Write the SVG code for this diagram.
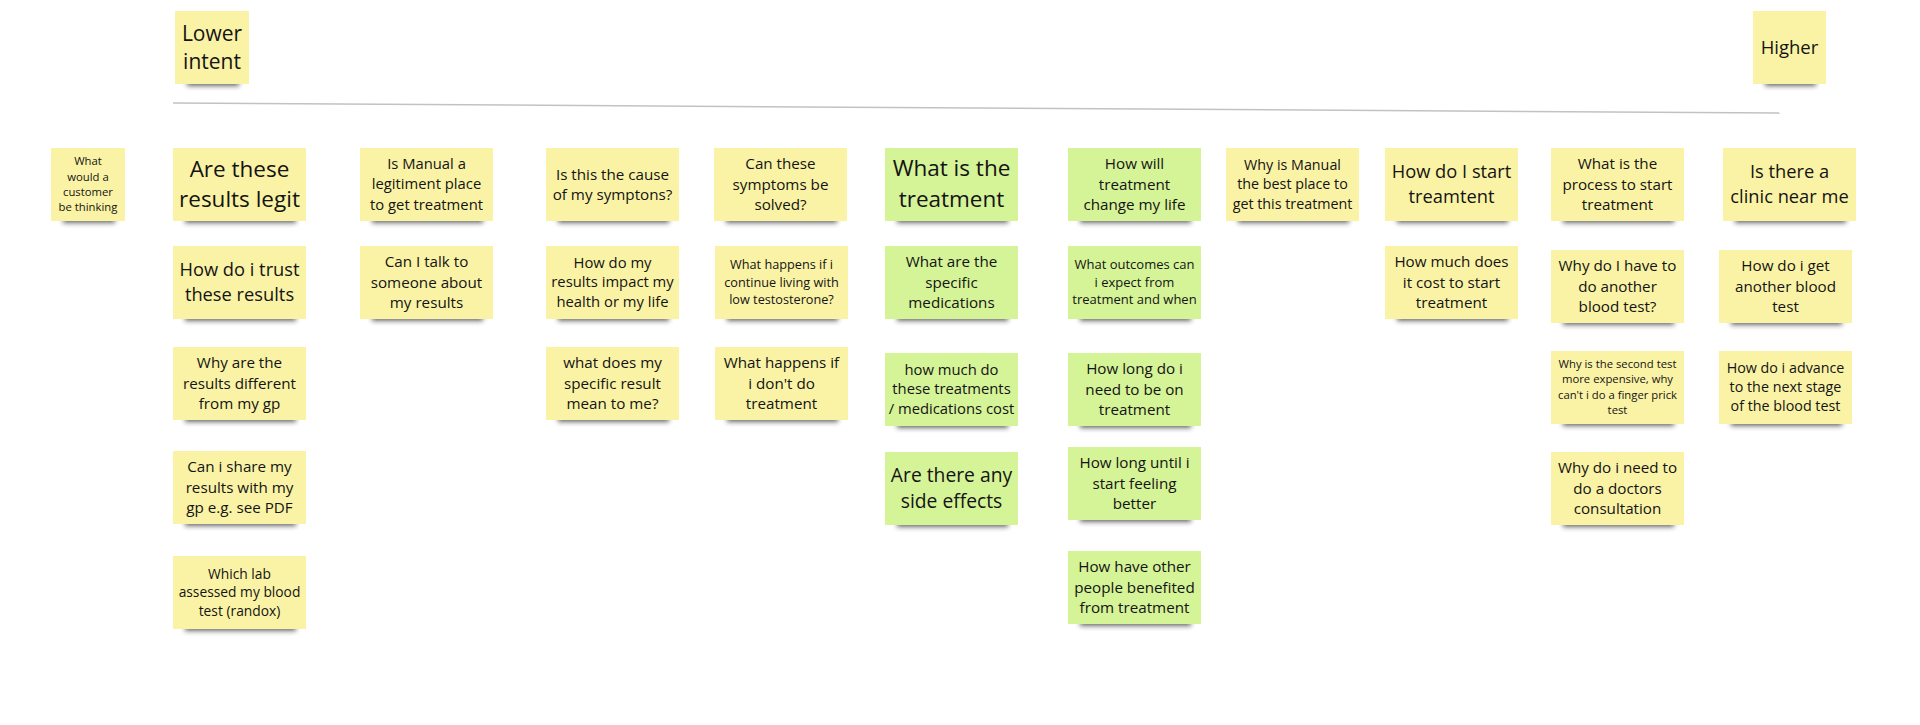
<svg xmlns="http://www.w3.org/2000/svg" width="1920" height="725" viewBox="0 0 1920 725">
<defs>
<filter id="blur" x="-20%" y="-200%" width="140%" height="500%"><feGaussianBlur stdDeviation="2.4"/></filter>
<style>
.sh{fill:#2a2a2a;opacity:.7;filter:url(#blur)}
.y{fill:#faf3a5}
.g{fill:#d5f397}
text{font-family:"Open Sans","Noto Sans","Liberation Sans",sans-serif;fill:#141414;text-anchor:middle}
.divider{stroke:#c2c2c2;stroke-width:1.5;fill:none}
</style>
</defs>
<rect width="1920" height="725" fill="#ffffff"/>
<g id="connectors">
<line class="divider" x1="173" y1="103" x2="1780" y2="113"/>
</g>
<g id="n-lower"><rect class="sh" x="187" y="79" width="52" height="7"/><rect class="y" x="175" y="11" width="74" height="73"/><text font-size="21" y="40.5"><tspan x="212">Lower</tspan><tspan x="212" dy="28">intent</tspan></text></g>
<g id="n-higher"><rect class="sh" x="1765" y="79" width="51" height="7"/><rect class="y" x="1753" y="11" width="73" height="73"/><text font-size="18.5" x="1789.5" y="53.6">Higher</text></g>
<g id="n-think"><rect class="sh" x="63" y="216" width="52" height="7"/><rect class="y" x="51" y="148" width="74" height="73"/><text font-size="11.3" y="165.2"><tspan x="88">What</tspan><tspan x="88" dy="15.3">would a</tspan><tspan x="88" dy="15.3">customer</tspan><tspan x="88" dy="15.3">be thinking</tspan></text></g>

<g id="n-c1a"><rect class="sh" x="185" y="216" width="111" height="7"/><rect class="y" x="173" y="148" width="133" height="73"/><text font-size="22.5" y="176.8"><tspan x="239.5">Are these</tspan><tspan x="239.5" dy="30">results legit</tspan></text></g>
<g id="n-c1b"><rect class="sh" x="185" y="314" width="111" height="7"/><rect class="y" x="173" y="246" width="133" height="73"/><text font-size="18.3" y="275.9"><tspan x="239.5">How do i trust</tspan><tspan x="239.5" dy="25">these results</tspan></text></g>
<g id="n-c1c"><rect class="sh" x="185" y="415" width="111" height="7"/><rect class="y" x="173" y="347" width="133" height="73"/><text font-size="15.2" y="368.2"><tspan x="239.5">Why are the</tspan><tspan x="239.5" dy="20.3">results different</tspan><tspan x="239.5" dy="20.3">from my gp</tspan></text></g>
<g id="n-c1d"><rect class="sh" x="185" y="519" width="111" height="7"/><rect class="y" x="173" y="451" width="133" height="73"/><text font-size="15.2" y="472.2"><tspan x="239.5">Can i share my</tspan><tspan x="239.5" dy="20.3">results with my</tspan><tspan x="239.5" dy="20.3">gp e.g. see PDF</tspan></text></g>
<g id="n-c1e"><rect class="sh" x="185" y="624" width="111" height="7"/><rect class="y" x="173" y="556" width="133" height="73"/><text font-size="13.8" y="578.5"><tspan x="239.5">Which lab</tspan><tspan x="239.5" dy="18.5">assessed my blood</tspan><tspan x="239.5" dy="18.5">test (randox)</tspan></text></g>

<g id="n-c2a"><rect class="sh" x="372" y="216" width="111" height="7"/><rect class="y" x="360" y="148" width="133" height="73"/><text font-size="14.8" y="169"><tspan x="426.5">Is Manual a</tspan><tspan x="426.5" dy="20.3">legitiment place</tspan><tspan x="426.5" dy="20.3">to get treatment</tspan></text></g>
<g id="n-c2b"><rect class="sh" x="372" y="314" width="111" height="7"/><rect class="y" x="360" y="246" width="133" height="73"/><text font-size="15.2" y="267.2"><tspan x="426.5">Can I talk to</tspan><tspan x="426.5" dy="20.3">someone about</tspan><tspan x="426.5" dy="20.3">my results</tspan></text></g>

<g id="n-c3a"><rect class="sh" x="558" y="216" width="111" height="7"/><rect class="y" x="546" y="148" width="133" height="73"/><text font-size="15.2" y="179.5"><tspan x="612.5">Is this the cause</tspan><tspan x="612.5" dy="20">of my symptons?</tspan></text></g>
<g id="n-c3b"><rect class="sh" x="558" y="314" width="111" height="7"/><rect class="y" x="546" y="246" width="133" height="73"/><text font-size="14.8" y="268"><tspan x="612.5">How do my</tspan><tspan x="612.5" dy="19.3">results impact my</tspan><tspan x="612.5" dy="19.3">health or my life</tspan></text></g>
<g id="n-c3c"><rect class="sh" x="558" y="415" width="111" height="7"/><rect class="y" x="546" y="347" width="133" height="73"/><text font-size="15.2" y="368.2"><tspan x="612.5">what does my</tspan><tspan x="612.5" dy="20.3">specific result</tspan><tspan x="612.5" dy="20.3">mean to me?</tspan></text></g>

<g id="n-c4a"><rect class="sh" x="726" y="216" width="111" height="7"/><rect class="y" x="714" y="148" width="133" height="73"/><text font-size="15.2" y="168.8"><tspan x="780.5">Can these</tspan><tspan x="780.5" dy="20.7">symptoms be</tspan><tspan x="780.5" dy="20.7">solved?</tspan></text></g>
<g id="n-c4b"><rect class="sh" x="727" y="314" width="111" height="7"/><rect class="y" x="715" y="246" width="133" height="73"/><text font-size="12.7" y="269.2"><tspan x="781.5">What happens if i</tspan><tspan x="781.5" dy="17.3">continue living with</tspan><tspan x="781.5" dy="17.3">low testosterone?</tspan></text></g>
<g id="n-c4c"><rect class="sh" x="727" y="415" width="111" height="7"/><rect class="y" x="715" y="347" width="133" height="73"/><text font-size="15.2" y="368.2"><tspan x="781.5">What happens if</tspan><tspan x="781.5" dy="20.3">i don't do</tspan><tspan x="781.5" dy="20.3">treatment</tspan></text></g>

<g id="n-c5a"><rect class="sh" x="897" y="216" width="111" height="7"/><rect class="g" x="885" y="148" width="133" height="73"/><text font-size="22.5" y="176.3"><tspan x="951.5">What is the</tspan><tspan x="951.5" dy="31">treatment</tspan></text></g>
<g id="n-c5b"><rect class="sh" x="897" y="314" width="111" height="7"/><rect class="g" x="885" y="246" width="133" height="73"/><text font-size="15.2" y="266.8"><tspan x="951.5">What are the</tspan><tspan x="951.5" dy="20.7">specific</tspan><tspan x="951.5" dy="20.7">medications</tspan></text></g>
<g id="n-c5c"><rect class="sh" x="897" y="421" width="111" height="7"/><rect class="g" x="885" y="353" width="133" height="73"/><text font-size="14.8" y="375"><tspan x="951.5">how much do</tspan><tspan x="951.5" dy="19.3">these treatments</tspan><tspan x="951.5" dy="19.3">/ medications cost</tspan></text></g>
<g id="n-c5d"><rect class="sh" x="897" y="520" width="111" height="7"/><rect class="g" x="885" y="452" width="133" height="73"/><text font-size="19.3" y="481.8"><tspan x="951.5">Are there any</tspan><tspan x="951.5" dy="26">side effects</tspan></text></g>

<g id="n-c6a"><rect class="sh" x="1080" y="216" width="111" height="7"/><rect class="g" x="1068" y="148" width="133" height="73"/><text font-size="15.2" y="168.8"><tspan x="1134.5">How will</tspan><tspan x="1134.5" dy="20.7">treatment</tspan><tspan x="1134.5" dy="20.7">change my life</tspan></text></g>
<g id="n-c6b"><rect class="sh" x="1080" y="314" width="111" height="7"/><rect class="g" x="1068" y="246" width="133" height="73"/><text font-size="13" y="269.1"><tspan x="1134.5">What outcomes can</tspan><tspan x="1134.5" dy="17.5">i expect from</tspan><tspan x="1134.5" dy="17.5">treatment and when</tspan></text></g>
<g id="n-c6c"><rect class="sh" x="1080" y="421" width="111" height="7"/><rect class="g" x="1068" y="353" width="133" height="73"/><text font-size="15.2" y="374.2"><tspan x="1134.5">How long do i</tspan><tspan x="1134.5" dy="20.3">need to be on</tspan><tspan x="1134.5" dy="20.3">treatment</tspan></text></g>
<g id="n-c6d"><rect class="sh" x="1080" y="515" width="111" height="7"/><rect class="g" x="1068" y="447" width="133" height="73"/><text font-size="15.2" y="468.2"><tspan x="1134.5">How long until i</tspan><tspan x="1134.5" dy="20.3">start feeling</tspan><tspan x="1134.5" dy="20.3">better</tspan></text></g>
<g id="n-c6e"><rect class="sh" x="1080" y="619" width="111" height="7"/><rect class="g" x="1068" y="551" width="133" height="73"/><text font-size="15.2" y="572.2"><tspan x="1134.5">How have other</tspan><tspan x="1134.5" dy="20.3">people benefited</tspan><tspan x="1134.5" dy="20.3">from treatment</tspan></text></g>

<g id="n-c7a"><rect class="sh" x="1238" y="216" width="111" height="7"/><rect class="y" x="1226" y="148" width="133" height="73"/><text font-size="14.3" y="169.6"><tspan x="1292.5">Why is Manual</tspan><tspan x="1292.5" dy="19.5">the best place to</tspan><tspan x="1292.5" dy="19.5">get this treatment</tspan></text></g>

<g id="n-c8a"><rect class="sh" x="1397" y="216" width="111" height="7"/><rect class="y" x="1385" y="148" width="133" height="73"/><text font-size="18.3" y="177.9"><tspan x="1451.5">How do I start</tspan><tspan x="1451.5" dy="25">treamtent</tspan></text></g>
<g id="n-c8b"><rect class="sh" x="1397" y="314" width="111" height="7"/><rect class="y" x="1385" y="246" width="133" height="73"/><text font-size="15.2" y="266.8"><tspan x="1451.5">How much does</tspan><tspan x="1451.5" dy="20.7">it cost to start</tspan><tspan x="1451.5" dy="20.7">treatment</tspan></text></g>

<g id="n-c9a"><rect class="sh" x="1563" y="216" width="111" height="7"/><rect class="y" x="1551" y="148" width="133" height="73"/><text font-size="15.2" y="169.2"><tspan x="1617.5">What is the</tspan><tspan x="1617.5" dy="20.3">process to start</tspan><tspan x="1617.5" dy="20.3">treatment</tspan></text></g>
<g id="n-c9b"><rect class="sh" x="1563" y="318" width="111" height="7"/><rect class="y" x="1551" y="250" width="133" height="73"/><text font-size="15.2" y="271.2"><tspan x="1617.5">Why do I have to</tspan><tspan x="1617.5" dy="20.3">do another</tspan><tspan x="1617.5" dy="20.3">blood test?</tspan></text></g>
<g id="n-c9c"><rect class="sh" x="1563" y="419" width="111" height="7"/><rect class="y" x="1551" y="351" width="133" height="73"/><text font-size="11.3" y="367.9"><tspan x="1617.5">Why is the second test</tspan><tspan x="1617.5" dy="15.5">more expensive, why</tspan><tspan x="1617.5" dy="15.5">can't i do a finger prick</tspan><tspan x="1617.5" dy="15.5">test</tspan></text></g>
<g id="n-c9d"><rect class="sh" x="1563" y="520" width="111" height="7"/><rect class="y" x="1551" y="452" width="133" height="73"/><text font-size="15.2" y="473.2"><tspan x="1617.5">Why do i need to</tspan><tspan x="1617.5" dy="20.3">do a doctors</tspan><tspan x="1617.5" dy="20.3">consultation</tspan></text></g>

<g id="n-c10a"><rect class="sh" x="1735" y="216" width="111" height="7"/><rect class="y" x="1723" y="148" width="133" height="73"/><text font-size="18.3" y="177.9"><tspan x="1789.5">Is there a</tspan><tspan x="1789.5" dy="25">clinic near me</tspan></text></g>
<g id="n-c10b"><rect class="sh" x="1731" y="318" width="111" height="7"/><rect class="y" x="1719" y="250" width="133" height="73"/><text font-size="15.2" y="271.2"><tspan x="1785.5">How do i get</tspan><tspan x="1785.5" dy="20.3">another blood</tspan><tspan x="1785.5" dy="20.3">test</tspan></text></g>
<g id="n-c10c"><rect class="sh" x="1731" y="419" width="111" height="7"/><rect class="y" x="1719" y="351" width="133" height="73"/><text font-size="14.3" y="372.8"><tspan x="1785.5">How do i advance</tspan><tspan x="1785.5" dy="19.3">to the next stage</tspan><tspan x="1785.5" dy="19.3">of the blood test</tspan></text></g>
</svg>
